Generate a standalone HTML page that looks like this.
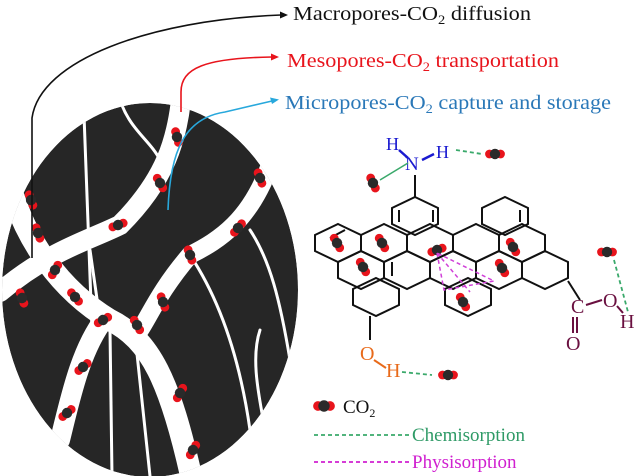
<!DOCTYPE html>
<html><head><meta charset="utf-8"><style>
html,body{margin:0;padding:0;background:#fff;}
svg{display:block;font-family:"Liberation Serif",serif;}
</style></head><body>
<svg width="640" height="476" viewBox="0 0 640 476" xmlns="http://www.w3.org/2000/svg">
<defs>
<g id="m"><circle cx="-5.5" cy="0" r="4.4" fill="#e8141c"/><circle cx="5.5" cy="0" r="4.4" fill="#e8141c"/><circle cx="0" cy="0" r="5.2" fill="#2a2a2a"/></g>
<polygon id="h" points="0,-19 23,-8 23,8 0,19 -23,8 -23,-8" fill="none" stroke="#111" stroke-width="2"/>
<clipPath id="cc"><ellipse cx="150" cy="290" rx="148" ry="187"/></clipPath>
</defs>
<g clip-path="url(#cc)">
<ellipse cx="150" cy="290" rx="148" ry="187" fill="#262626"/>
<g fill="none" stroke="#fff" stroke-linecap="round">
<path d="M182,90 C178,140 165,180 120,225 C90,240 50,250 0,292" stroke-width="20"/>
<path d="M10,185 C25,240 60,290 110,320 C150,340 170,380 192,480" stroke-width="22"/>
<path d="M270,165 C250,220 220,240 190,255 C160,290 150,315 140,330" stroke-width="18"/>
<path d="M105,318 C80,350 70,400 60,440" stroke-width="20"/>
<g stroke-width="3">
<path d="M84,115 L92,330"/>
<path d="M120,100 C130,130 150,140 160,160"/>
<path d="M190,255 C220,300 240,360 250,430"/>
<path d="M250,230 C270,260 280,300 290,360"/>
<path d="M135,335 L150,476"/>
<path d="M260,330 C250,360 260,400 265,430"/>
<path d="M110,330 L112,476"/>
<path d="M90,250 L100,320"/>
</g></g>
</g>
<use href="#m" transform="translate(31,200) rotate(70)"/>
<use href="#m" transform="translate(38,233) rotate(70)"/>
<use href="#m" transform="translate(177,137) rotate(75)"/>
<use href="#m" transform="translate(160,183) rotate(60)"/>
<use href="#m" transform="translate(118,225) rotate(-20)"/>
<use href="#m" transform="translate(55,270) rotate(-60)"/>
<use href="#m" transform="translate(22,298) rotate(70)"/>
<use href="#m" transform="translate(75,297) rotate(50)"/>
<use href="#m" transform="translate(103,320) rotate(-30)"/>
<use href="#m" transform="translate(137,325) rotate(60)"/>
<use href="#m" transform="translate(163,302) rotate(70)"/>
<use href="#m" transform="translate(190,255) rotate(70)"/>
<use href="#m" transform="translate(238,228) rotate(-50)"/>
<use href="#m" transform="translate(260,178) rotate(70)"/>
<use href="#m" transform="translate(83,367) rotate(-40)"/>
<use href="#m" transform="translate(67,413) rotate(-40)"/>
<use href="#m" transform="translate(180,393) rotate(-60)"/>
<use href="#m" transform="translate(193,450) rotate(-60)"/>
<path d="M32,258 L32,118 C40,60 150,20 281,15" fill="none" stroke="#111" stroke-width="1.6"/>
<polygon points="288,15 280,11.5 280,18.5" fill="#111"/>
<path d="M181,112 L181,92 C181,68 205,58 272,57" fill="none" stroke="#e8141c" stroke-width="1.6"/>
<polygon points="279,57 271,53.5 271,60.5" fill="#e8141c"/>
<path d="M168,210 C170,150 185,118 225,112 L272,101" fill="none" stroke="#28a8dc" stroke-width="1.6"/>
<polygon points="279,99.5 270,97.5 272,104" fill="#28a8dc"/>
<text x="293" y="20" font-size="20" fill="#111" textLength="238" lengthAdjust="spacingAndGlyphs">Macropores-CO<tspan font-size="13" dy="4">2</tspan><tspan dy="-4"> diffusion</tspan></text>
<text x="287" y="67" font-size="20" fill="#e8141c" textLength="272" lengthAdjust="spacingAndGlyphs">Mesopores-CO<tspan font-size="13" dy="4">2</tspan><tspan dy="-4"> transportation</tspan></text>
<text x="285" y="109" font-size="20" fill="#2a78b8" textLength="326" lengthAdjust="spacingAndGlyphs">Micropores-CO<tspan font-size="13" dy="4">2</tspan><tspan dy="-4"> capture and storage</tspan></text>
<use href="#h" x="415" y="216"/><use href="#h" x="505" y="216"/>
<use href="#h" x="338" y="243"/><use href="#h" x="384" y="243"/><use href="#h" x="430" y="243"/><use href="#h" x="476" y="243"/><use href="#h" x="522" y="243"/>
<use href="#h" x="361" y="270"/><use href="#h" x="407" y="270"/><use href="#h" x="453" y="270"/><use href="#h" x="499" y="270"/><use href="#h" x="545" y="270"/>
<use href="#h" x="376" y="297"/><use href="#h" x="468" y="297"/>
<g stroke="#111" stroke-width="2" fill="none">
<path d="M415,197 L415,175"/>
<path d="M370,316 L370,340"/>
<path d="M568,281 L580,300"/>
<path d="M399,210 L399,222 M433,210 L433,222 M330,238 L345,230 M520,210 L520,222 M392,262 L392,276"/>
</g>
<text x="405" y="170" font-size="19" fill="#1a1ad0">N</text>
<text x="386" y="150" font-size="18" fill="#1a1ad0">H</text>
<text x="436" y="158" font-size="18" fill="#1a1ad0">H</text>
<path d="M399,150 L408,158 M422,160 L434,154" stroke="#1a1ad0" stroke-width="2.5"/>
<path d="M408,163 L380,180" stroke="#3aa96b" stroke-width="1.5"/>
<use href="#m" transform="translate(373,183) rotate(65)"/>
<path d="M456,150 L482,154" stroke="#3aa96b" stroke-width="1.8" stroke-dasharray="4,3"/>
<use href="#m" transform="translate(495,154)"/>
<text x="360" y="360" font-size="20" fill="#e86a1a">O</text>
<text x="386" y="377" font-size="20" fill="#e86a1a">H</text>
<path d="M374,360 L386,368" stroke="#e86a1a" stroke-width="2"/>
<path d="M402,372 L432,375" stroke="#3aa96b" stroke-width="1.8" stroke-dasharray="4,3"/>
<use href="#m" transform="translate(448,375)"/>
<text x="571" y="313" font-size="20" fill="#6a1040">C</text>
<text x="603" y="307" font-size="20" fill="#6a1040">O</text>
<text x="620" y="328" font-size="20" fill="#6a1040">H</text>
<text x="566" y="350" font-size="20" fill="#6a1040">O</text>
<path d="M586,305 L602,300 M617,306 L623,313 M573,317 L573,333 M577,317 L577,333" stroke="#6a1040" stroke-width="2"/>
<use href="#m" transform="translate(607,252)"/>
<path d="M614,260 L628,312" stroke="#3aa96b" stroke-width="1.8" stroke-dasharray="4,3"/>
<use href="#m" transform="translate(337,243) rotate(60)"/>
<use href="#m" transform="translate(382,243) rotate(60)"/>
<use href="#m" transform="translate(363,267) rotate(60)"/>
<use href="#m" transform="translate(437,250) rotate(-20)"/>
<use href="#m" transform="translate(513,247) rotate(60)"/>
<use href="#m" transform="translate(502,268) rotate(60)"/>
<use href="#m" transform="translate(463,302) rotate(60)"/>
<path d="M437,253 L444,290 L494,281 Z M437,253 L470,292" fill="none" stroke="#d040d8" stroke-width="1.5" stroke-dasharray="4,3"/>
<use href="#m" transform="translate(324,406) scale(1.1)"/>
<text x="343" y="413" font-size="19" fill="#111">CO<tspan font-size="12" dy="4">2</tspan></text>
<path d="M314,435 L410,435" stroke="#3aa96b" stroke-width="1.8" stroke-dasharray="4,3"/>
<text x="412" y="441" font-size="19" fill="#2e9a66">Chemisorption</text>
<path d="M314,462 L410,462" stroke="#d020d0" stroke-width="1.8" stroke-dasharray="4,3"/>
<text x="412" y="468" font-size="19" fill="#d020d0">Physisorption</text>
</svg>
</body></html>
